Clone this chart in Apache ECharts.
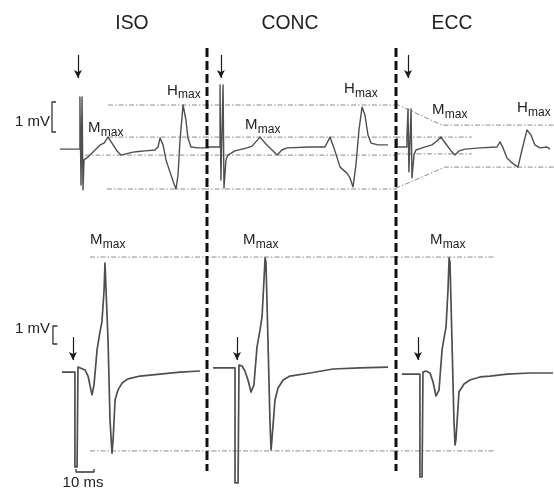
<!DOCTYPE html>
<html>
<head>
<meta charset="utf-8">
<style>html,body{margin:0;padding:0;background:#fff}#c{width:554px;height:489px}</style>
<script src="https://cdn.jsdelivr.net/npm/echarts@6/dist/echarts.min.js"></script>
</head>
<body>
<div id="c"></div>
<script>
// ---------- DATA (time in ms from stimulus, amplitude in mV) ----------
const panelTitles = ['ISO', 'CONC', 'ECC'];

// top row: Mmax + Hmax sweeps
const isoTop = [[-11.7,-0.07],[-0.6,-0.07],[-0.6,1.67],[0,1.67],[0,-1.27],[0.6,1.67],[1.1,1.67],[1.1,-1.43],[1.7,-0.43],[3.9,-0.33],[7.8,-0.1],[10.6,0.07],[12.8,0.13],[15,0.33],[17.2,0.13],[20,-0.13],[22.2,-0.27],[25,-0.23],[28.9,-0.17],[32,-0.15],[35.6,-0.13],[41.1,-0.1],[42.8,0],[43.9,0.3],[45.6,0.07],[47.2,-0.43],[49.4,-0.83],[51.7,-1.23],[52.8,-1.4],[53.9,-0.93],[55,0.23],[56.7,1.4],[58.3,0.9],[59.4,0.3],[61.1,0],[65,-0.03],[72,-0.03]];
const concTop = [[-9,0],[-1.1,0],[-1.1,2.07],[-0.6,2.07],[-0.6,-1.1],[0.6,2.07],[1.1,2.07],[1.1,-1.37],[2.2,-0.43],[3.3,-0.27],[7.2,-0.13],[13.9,-0.03],[16.7,0.03],[21.1,0.33],[24.4,0.1],[27.8,-0.1],[30.6,-0.27],[33.3,-0.1],[36.1,-0.03],[48.9,0],[57.2,0],[60,0.33],[62.2,-0.03],[65.6,-0.67],[69.4,-0.87],[71.1,-1.03],[72.8,-1.33],[74.4,-0.6],[76.1,0.57],[77.8,1.33],[79.4,1.07],[81.1,0.4],[82.8,0.13],[86.7,0.07],[92.2,0.07]];
const eccTop = [[-7.2,0.3],[-7.2,0],[-1.7,0],[-1.7,0.33],[-1.1,1.27],[-0.6,1.27],[-0.6,-0.83],[0.6,1.27],[1.1,1.27],[1.1,-1.03],[2.2,-0.27],[3.3,-0.1],[6.7,-0.03],[12.2,0.07],[15,0.2],[17.2,0.33],[20,0.1],[22.8,-0.13],[25,-0.27],[27.2,-0.13],[30.6,-0.07],[38.9,-0.03],[48.3,0],[50,0.17],[51.7,-0.03],[53.9,-0.37],[56.7,-0.53],[60,-0.67],[62.2,-0.1],[65,0.57],[67.2,0.4],[69.4,0.07],[72.2,-0.03],[76.1,0],[77.8,-0.07]];

// bottom row: Mmax sweeps
const isoBottom = [[-7.8,-0.06],[-0.6,-0.06],[-0.6,-5.33],[0.6,-5.33],[1.1,0.22],[2.2,0.17],[5,0.06],[6.7,-0.28],[8.3,-1.06],[8.9,-1.33],[10,-0.78],[11.7,1.17],[13.3,2.17],[14.4,2.72],[15.6,4.5],[16.1,6],[16.7,5.89],[17.8,1.72],[18.9,-2.72],[20,-4.56],[20.6,-3.83],[21.7,-1.61],[23.3,-1.06],[25.6,-0.67],[28.9,-0.44],[35.6,-0.28],[46.7,-0.17],[57.8,-0.06],[68.9,0]];
const concBottom = [[-13.3,0.17],[-1.1,0.17],[-1.1,-6.22],[0.6,-6.22],[1.1,0.33],[2.8,0.28],[4.4,0],[6.1,-0.5],[7.8,-1.17],[8.3,-1.22],[9.4,-0.78],[11.1,1.33],[12.8,2.28],[13.9,3],[15,5.06],[15.6,6.28],[16.1,6.06],[17.2,1.72],[18.3,-2.72],[18.9,-4.39],[19.4,-3.83],[21.1,-1.61],[22.8,-0.94],[25.6,-0.5],[29.4,-0.28],[40.6,-0.11],[53.3,0.11],[68.3,0.17],[83.9,0.22]];
const eccBottom = [[-10.6,-0.17],[-0.6,-0.17],[-0.6,-5.89],[0.6,-5.89],[1.1,-0.06],[2.8,0],[5,-0.11],[6.7,-0.61],[8.3,-1.39],[8.9,-1.5],[10,-1.06],[11.7,1.17],[12.8,1.83],[13.9,2.44],[15,4.5],[15.6,6.28],[16.1,6.06],[17.2,1.72],[18.3,-2.72],[18.9,-4.11],[19.4,-3.83],[21.1,-1.17],[23.9,-0.72],[27.2,-0.5],[32.8,-0.33],[38.3,-0.28],[47.8,-0.17],[60.6,-0.11],[73.3,-0.11]];

// reference amplitude levels (dash-dot), polylines in [ms, mV]
const isoTopRefs = [[[15,1.4],[75,1.4]],[[15,0.33],[75,0.33]],[[2.2,-0.27],[75,-0.27]],[[14.4,-1.4],[75,-1.4]]];
const concTopRefs = [[[-10,1.4],[100,1.4]],[[-10,0.33],[100,0.33]],[[-10,-0.27],[100,-0.27]],[[-10,-1.4],[100,-1.4]]];
const eccTopRefs = [[[-8,1.44],[17.8,0.73],[85,0.73]],[[-8,0.33],[34.4,0.33]],[[-8,-0.23],[34.4,-0.23]],[[-8,-1.38],[19.4,-0.67],[85,-0.67]]];
const isoBottomRefs = [[[7.8,6.33],[75,6.33]],[[7.8,-4.44],[75,-4.44]]];
const concBottomRefs = [[[-20,6.33],[100,6.33]],[[-20,-4.44],[100,-4.44]]];
const eccBottomRefs = [[[-15,6.33],[41.1,6.33]],[[-15,-4.44],[41.1,-4.44]]];

// stimulus arrows: [ms, mV start, mV tip]
const stimArrowsTop = [[-1.7,3.07,2.3],[-0.6,3.07,2.3],[-1.1,3.07,2.3]];
const stimArrowsBottom = [[-1.7,1.89,0.61],[0,1.89,0.61],[-1.7,1.89,0.61]];

// calibration bars
const mvBarTop = [[-13.9,1.5],[-16.1,1.5],[-16.1,0.5],[-13.9,0.5]];
const mvBarBottom = [[-10.3,2.5],[-12.8,2.5],[-12.8,1.5],[-10.3,1.5]];
const msBar = [[0,-5.45],[0,-5.61],[10,-5.61],[10,-5.45]];

// ---------- LAYOUT ----------
const PX_PER_MS = 1.8;
const rows = [
  {top: 42, height: 165, min: -2, max: 3.5},
  {top: 245, height: 243, min: -6.5, max: 7}
];
const panels = [
  {row: 0, left: 0, width: 207, stim: 81, trace: isoTop, refs: isoTopRefs, arrow: stimArrowsTop[0], w: 1.4},
  {row: 0, left: 207, width: 189, stim: 222, trace: concTop, refs: concTopRefs, arrow: stimArrowsTop[1], w: 1.4},
  {row: 0, left: 396, width: 158, stim: 410, trace: eccTop, refs: eccTopRefs, arrow: stimArrowsTop[2], w: 1.4},
  {row: 1, left: 0, width: 207, stim: 76, trace: isoBottom, refs: isoBottomRefs, arrow: stimArrowsBottom[0], w: 1.7},
  {row: 1, left: 207, width: 189, stim: 237, trace: concBottom, refs: concBottomRefs, arrow: stimArrowsBottom[1], w: 1.7},
  {row: 1, left: 396, width: 158, stim: 421, trace: eccBottom, refs: eccBottomRefs, arrow: stimArrowsBottom[2], w: 1.7}
];

const TRACE = '#4f4f4f', REF = '#8a8a8a', INK = '#1a1a1a';
const grid = [], xAxis = [], yAxis = [], series = [];
panels.forEach((p, i) => {
  const r = rows[p.row];
  grid.push({left: p.left, top: r.top, width: p.width, height: r.height, containLabel: false});
  xAxis.push({type: 'value', gridIndex: i, show: false, min: (p.left - p.stim) / PX_PER_MS, max: (p.left + p.width - p.stim) / PX_PER_MS, splitLine: {show: false}});
  yAxis.push({type: 'value', gridIndex: i, show: false, min: r.min, max: r.max, splitLine: {show: false}});
  p.refs.forEach(seg => series.push({
    type: 'line', xAxisIndex: i, yAxisIndex: i, data: seg, symbol: 'none', silent: true, z: 1,
    lineStyle: {color: REF, width: 1, type: [5, 2, 1.5, 2]}
  }));
  series.push({
    type: 'line', xAxisIndex: i, yAxisIndex: i, data: p.trace, symbol: 'none', silent: true, z: 3,
    lineStyle: {color: TRACE, width: p.w, join: 'round'},
    markLine: {
      silent: true, symbol: ['none', 'arrow'], symbolSize: [6, 8], animation: false,
      label: {show: false}, emphasis: {disabled: true},
      lineStyle: {color: INK, width: 1.2, type: 'solid'},
      data: [[{coord: [p.arrow[0], p.arrow[1]]}, {coord: [p.arrow[0], p.arrow[2]]}]]
    }
  });
});
// calibration bars
const calib = (idx, data) => ({type: 'line', xAxisIndex: idx, yAxisIndex: idx, data, symbol: 'none', silent: true, z: 4, lineStyle: {color: '#333', width: 1.3}});
series.push(calib(0, mvBarTop), calib(3, mvBarBottom), calib(3, msBar));

// ---------- TEXT / DECORATION ----------
const FONT = '"Liberation Sans", Arial, sans-serif';
const graphic = [];
const titleX = [132, 290, 452];
panelTitles.forEach((t, i) => graphic.push({type: 'text', x: titleX[i], y: 23, scaleX: 0.92,
  style: {text: t, font: '21px ' + FONT, fill: '#222', align: 'center', verticalAlign: 'middle'}}));
[207, 396].forEach(x => graphic.push({type: 'line', shape: {x1: x, y1: 48, x2: x, y2: 471},
  style: {stroke: '#111', lineWidth: 3, lineDash: [9, 4]}, z: 10}));
function sub(x, y, main, s) {
  const mw = main === 'M' ? 12.8 : 11;
  graphic.push({type: 'text', x: x, y: y, style: {text: main, font: '15px ' + FONT, fill: '#222', align: 'left', verticalAlign: 'middle'}});
  graphic.push({type: 'text', x: x + mw, y: y + 4.5, style: {text: s, font: '12px ' + FONT, fill: '#222', align: 'left', verticalAlign: 'middle'}});
}
sub(88, 128, 'M', 'max');  sub(167, 90.5, 'H', 'max');
sub(245, 125, 'M', 'max'); sub(344, 89, 'H', 'max');
sub(432, 110, 'M', 'max'); sub(517, 108, 'H', 'max');
sub(90, 240, 'M', 'max');  sub(243, 240, 'M', 'max'); sub(430, 240, 'M', 'max');
graphic.push({type: 'text', x: 50, y: 122, style: {text: '1 mV', font: '15px ' + FONT, fill: '#222', align: 'right', verticalAlign: 'middle'}});
graphic.push({type: 'text', x: 50, y: 329, style: {text: '1 mV', font: '15px ' + FONT, fill: '#222', align: 'right', verticalAlign: 'middle'}});
graphic.push({type: 'text', x: 83, y: 483, style: {text: '10 ms', font: '15px ' + FONT, fill: '#222', align: 'center', verticalAlign: 'middle'}});

const chart = echarts.init(document.getElementById('c'), null, {renderer: 'canvas'});
chart.setOption({animation: false, backgroundColor: '#fff', grid, xAxis, yAxis, series, graphic});
</script>
</body>
</html>
